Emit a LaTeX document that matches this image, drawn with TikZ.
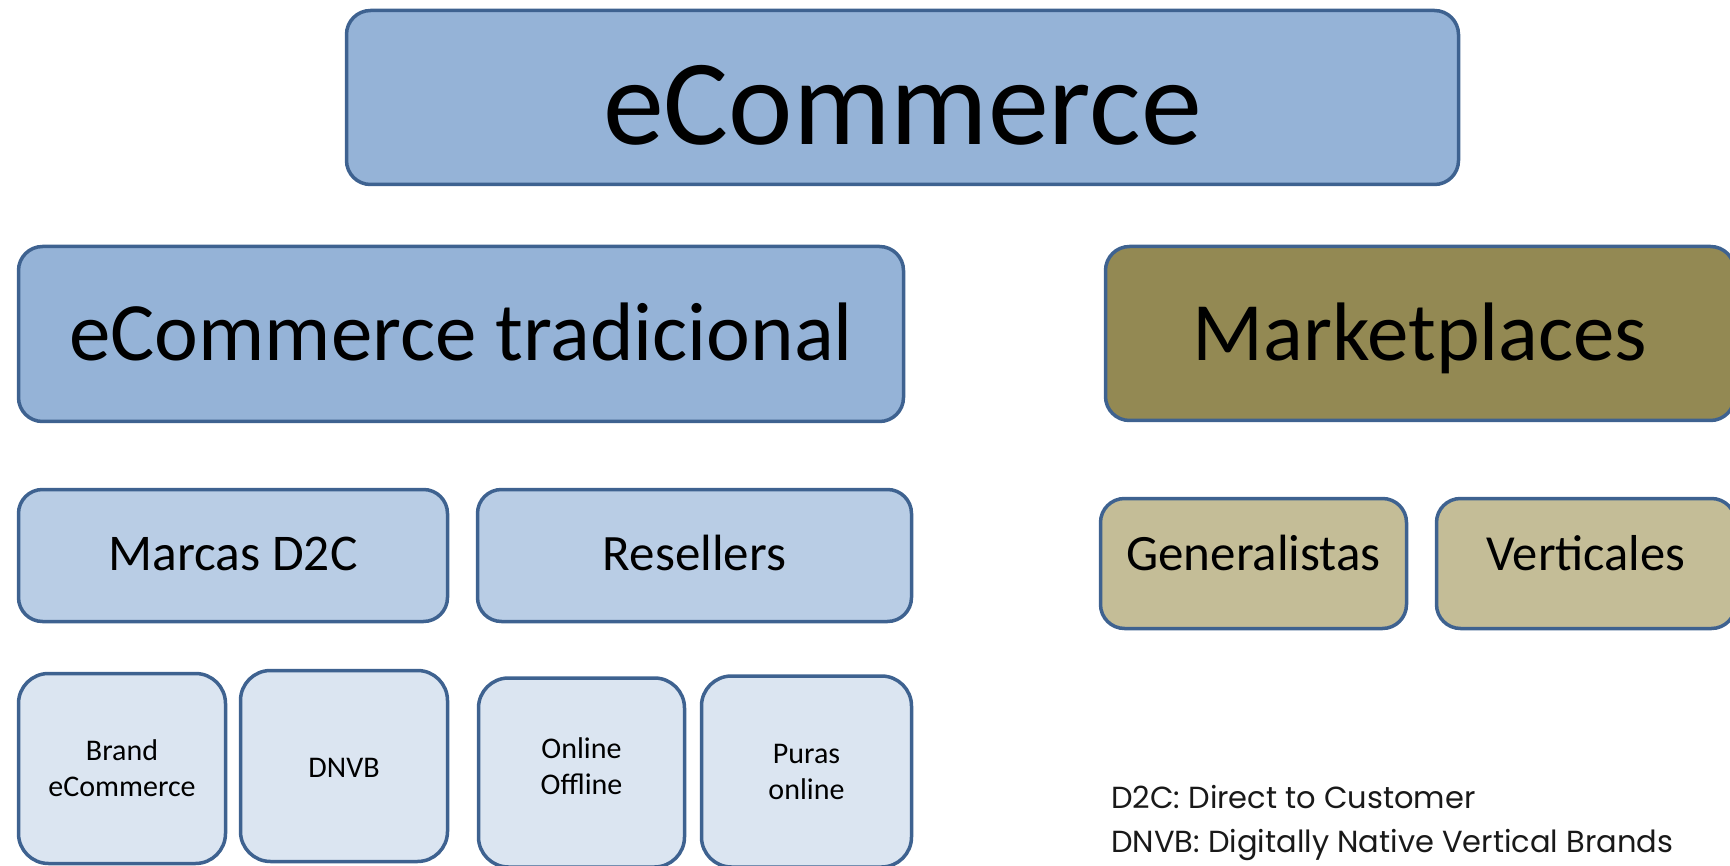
\documentclass[tikz,border=0pt]{standalone}
\usepackage{fontspec}
\setmainfont{Carlito}
\newfontfamily\legendfont{Poppins}
\definecolor{bordc}{HTML}{3E6290}
\definecolor{blueA}{HTML}{95B3D7}
\definecolor{blueB}{HTML}{B9CDE5}
\definecolor{blueC}{HTML}{DBE5F1}
\definecolor{oliveA}{HTML}{938953}
\definecolor{oliveB}{HTML}{C4BD97}
\begin{document}
\begin{tikzpicture}[x=1pt,y=-1pt,
  box/.style={draw=bordc, line width=3.5pt, inner sep=0pt, align=center, text=black},
  bigbox/.style={box, rounded corners=24pt},
  midbox/.style={box, rounded corners=24pt},
  smallbox/.style={box, rounded corners=30pt, font=\fontsize{30}{36}\selectfont},
  legend/.style={anchor=base west, inner sep=0pt, font=\legendfont\fontsize{30.5}{36}\selectfont, text=black!90}
]
\useasboundingbox (0,0) rectangle (1730,866);
\clip (0,0) rectangle (1730,866);

\node[bigbox, fill=blueA, minimum width=1112, minimum height=174,
      font=\fontsize{122}{122}\selectfont, text height=114pt, text depth=20pt]
      (ecom) at (902.5,97.5) {eCommerce};

\node[bigbox, fill=blueA, minimum width=885, minimum height=175,
      font=\fontsize{83}{83}\selectfont, text height=74pt, text depth=20pt]
      (trad) at (461,334) {eCommerce tradicional};

\node[bigbox, fill=oliveA, minimum width=629, minimum height=174,
      font=\fontsize{83}{83}\selectfont, text height=75pt, text depth=20pt]
      (mkt) at (1420,333.5) {Marketplaces};

\node[midbox, fill=blueB, minimum width=429, minimum height=132,
      font=\fontsize{51.5}{51.5}\selectfont, text height=49pt, text depth=20pt]
      (d2c) at (233,555.5) {Marcas D2C};

\node[midbox, fill=blueB, minimum width=434, minimum height=132,
      font=\fontsize{51}{51}\selectfont, text height=49pt, text depth=20pt]
      (res) at (694.5,555.5) {Resellers};

\node[midbox, fill=oliveB, minimum width=306, minimum height=130,
      font=\fontsize{51}{51}\selectfont, text height=33pt, text depth=20pt]
      (gen) at (1253.5,563.5) {Generalistas};

\node[midbox, fill=oliveB, minimum width=299, minimum height=130,
      font=\fontsize{50.5}{50.5}\selectfont, text height=33pt, text depth=20pt]
      (vert) at (1586,563.5) {Verticales};

\node[smallbox, fill=blueC, minimum width=207, minimum height=190]
      (brand) at (122,768.5) {Brand\\eCommerce};
\node[smallbox, fill=blueC, minimum width=207, minimum height=191, text height=22pt, text depth=0pt]
      (dnvb) at (344,766) {DNVB};
\node[smallbox, fill=blueC, minimum width=206, minimum height=189, text depth=12pt]
      (onoff) at (581.5,772.5) {Online\\Offline};
\node[smallbox, fill=blueC, minimum width=210, minimum height=191]
      (puras) at (806.5,771.5) {Puras\\online};

\node[legend] (leg1) at (1111,808) {D2C: Direct to Customer};
\node[legend] (leg2) at (1111,852) {DNVB: Digitally Native Vertical Brands};
\end{tikzpicture}
\end{document}
